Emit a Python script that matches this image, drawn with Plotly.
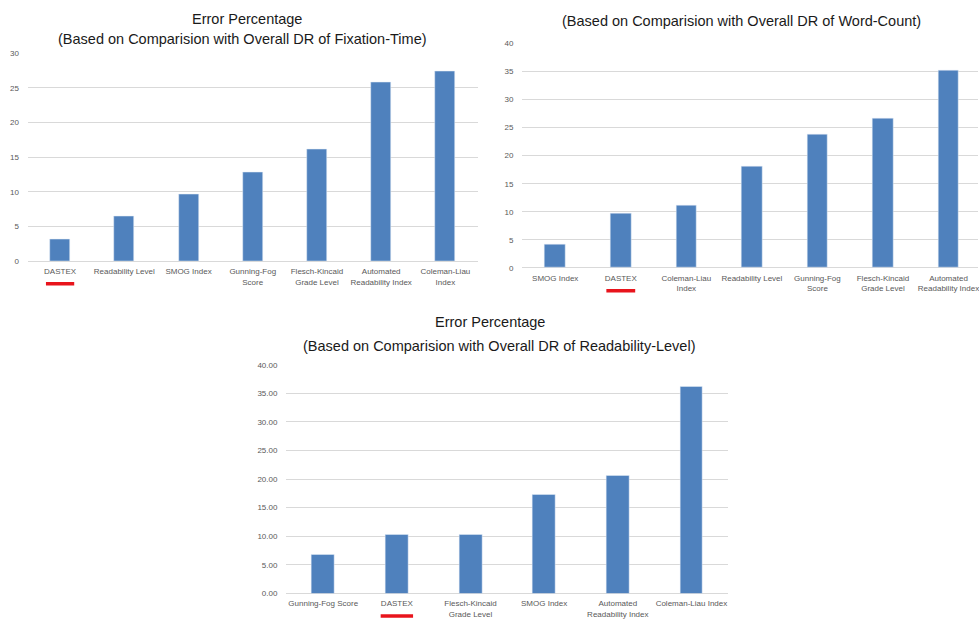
import plotly.graph_objects as go

W, H = 979, 627

# ---- data ----
cats_fix = ["DASTEX", "Readability Level", "SMOG Index", "Gunning-Fog<br>Score",
            "Flesch-Kincaid<br>Grade Level", "Automated<br>Readability Index", "Coleman-Liau<br>Index"]
vals_fix = [3.2, 6.45, 9.6, 12.85, 16.15, 25.8, 27.45]

cats_wc = ["SMOG Index", "DASTEX", "Coleman-Liau<br>Index", "Readability Level",
           "Gunning-Fog<br>Score", "Flesch-Kincaid<br>Grade Level", "Automated<br>Readability Index"]
vals_wc = [4.1, 9.75, 11.2, 18.15, 23.8, 26.6, 35.1]

cats_rl = ["Gunning-Fog Score", "DASTEX", "Flesch-Kincaid<br>Grade Level", "SMOG Index",
           "Automated<br>Readability Index", "Coleman-Liau Index"]
vals_rl = [6.8, 10.2, 10.2, 17.2, 20.6, 36.1]

title_main = "Error Percentage"
sub_fix = "(Based on Comparision with Overall DR of Fixation-Time)"
sub_wc = "(Based on Comparision with Overall DR of Word-Count)"
sub_rl = "(Based on Comparision with Overall DR of Readability-Level)"

BAR = "#4f81bd"
GRID = "#d9d9d9"
TICK = "#595959"
FONT = "Liberation Sans, Arial, sans-serif"

def px(x):
    return x / W

def py(y):
    return 1 - y / H

fig = go.Figure()
fig.add_trace(go.Bar(x=list(range(len(cats_fix))), y=vals_fix, marker_color=BAR,
                     width=0.31, xaxis="x", yaxis="y", hoverinfo="skip"))
fig.add_trace(go.Bar(x=list(range(len(cats_wc))), y=vals_wc, marker_color=BAR,
                     width=0.315, xaxis="x2", yaxis="y2", hoverinfo="skip"))
fig.add_trace(go.Bar(x=list(range(len(cats_rl))), y=vals_rl, marker_color=BAR,
                     width=0.31, xaxis="x3", yaxis="y3", hoverinfo="skip"))

def xax(domain, anchor, cats, rng, overflow="hide past div"):
    return dict(domain=domain, anchor=anchor, range=rng, tickmode="array",
                tickvals=list(range(len(cats))), ticktext=cats, showgrid=False,
                zeroline=False, showline=False, ticks="", ticklabelstandoff=4,
                tickfont=dict(size=8, color=TICK, family=FONT), fixedrange=True,
                ticklabeloverflow=overflow)

def yax(domain, anchor, rng, fmt=""):
    return dict(domain=domain, anchor=anchor, range=rng, dtick=5, tick0=0,
                showgrid=True, gridcolor=GRID, gridwidth=1, zeroline=True,
                zerolinecolor=GRID, zerolinewidth=1, showline=False, ticks="",
                ticklabelstandoff=8, tickformat=fmt,
                tickfont=dict(size=8, color=TICK, family=FONT), fixedrange=True)

fig.update_layout(
    width=W, height=H, margin=dict(l=0, r=0, t=0, b=0),
    paper_bgcolor="white", plot_bgcolor="white", showlegend=False, bargap=0,
    xaxis=xax([px(28), px(478)], "y", cats_fix, [-0.5, 6.5]),
    yaxis=yax([py(261), py(50)], "x", [0, 30]),
    xaxis2=xax([px(523), 1.0], "y2", cats_wc, [-0.5, 6.45], overflow="allow"),
    yaxis2=yax([py(267.7), py(40)], "x2", [0, 40]),
    xaxis3=xax([px(286.7), px(729)], "y3", cats_rl, [-0.5, 5.5]),
    yaxis3=yax([py(598), py(366)], "x3", [0, 40], fmt=".2f"),
)

def title(text, x, y):
    fig.add_annotation(text=text, x=px(x), y=py(y), xref="paper", yref="paper",
                       xanchor="center", yanchor="middle", showarrow=False,
                       font=dict(size=14.5, color="#1a1a1a", family=FONT))

title(title_main, 247, 15)
title(sub_fix, 243, 36)
title(sub_wc, 742, 17)
title(title_main, 491, 323)
title(sub_rl, 500, 346.5)

# red underline beneath the DASTEX label in each chart
for xr, cats, ypix in [("x", cats_fix, 283.7), ("x2", cats_wc, 291), ("x3", cats_rl, 621)]:
    i = cats.index("DASTEX")
    fig.add_shape(type="line", xref=xr, yref="paper", x0=i - 0.22, x1=i + 0.22,
                  y0=py(ypix), y1=py(ypix), line=dict(color="#e8141c", width=3.5))

fig.write_html("out.html", config={"displayModeBar": False},
               post_script="document.body.style.margin='0';document.body.style.overflow='hidden';")
